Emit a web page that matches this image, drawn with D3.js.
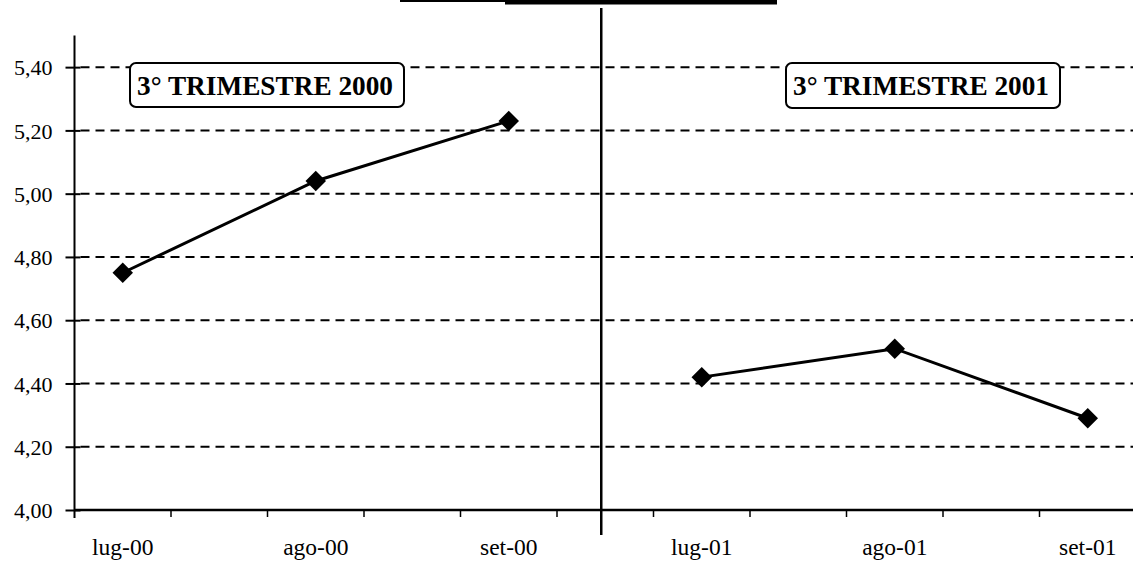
<!DOCTYPE html>
<html>
<head>
<meta charset="utf-8">
<script src="https://cdn.jsdelivr.net/npm/d3@7"></script>
<style>
  html, body { margin: 0; padding: 0; background: #fff; }
  svg { display: block; }
</style>
</head>
<body>
<svg id="chart" width="1133" height="562"></svg>
<script>
// ---- data ----
const categories = ["lug-00", "ago-00", "set-00", "lug-01", "ago-01", "set-01"];
const series2000 = [4.75, 5.04, 5.23];
const series2001 = [4.42, 4.51, 4.29];
const panelTitles = ["3° TRIMESTRE 2000", "3° TRIMESTRE 2001"];
const yTickValues = [4.00, 4.20, 4.40, 4.60, 4.80, 5.00, 5.20, 5.40];
const yDomain = [4.00, 5.50];

// ---- setup ----
const W = 1133, H = 562;
const svg = d3.select("#chart");
const font = "'Liberation Serif', 'Times New Roman', serif";
const fmt = d3.formatLocale({decimal: ",", thousands: ".", grouping: [3], currency: ["", ""]}).format(".2f");

const x = d3.scaleBand().domain(categories).range([74.5, 1136]).paddingInner(0.5).paddingOuter(0);
const y = d3.scaleLinear().domain(yDomain).range([510, 35.5]);
const cx = d => x(d) + x.bandwidth() / 2;

const axisX = x.range()[0];
const baseY = y(yDomain[0]);

// top black bar (cropped header)
svg.append("rect").attr("x", 400).attr("y", 0).attr("width", 377).attr("height", 2).attr("fill", "#000");
svg.append("rect").attr("x", 505).attr("y", 0).attr("width", 272).attr("height", 4.5).attr("fill", "#000");

// gridlines
svg.append("g").selectAll("line").data(yTickValues.filter(v => v > yDomain[0])).join("line")
  .attr("x1", axisX + 6).attr("x2", W)
  .attr("y1", d => y(d)).attr("y2", d => y(d))
  .attr("stroke", "#000").attr("stroke-width", 2).attr("stroke-dasharray", "9,6");

// y axis
const yAxis = d3.axisLeft(y).tickValues(yTickValues).tickFormat(fmt).tickSize(0).tickPadding(0);
const gy = svg.append("g").attr("transform", `translate(${axisX},0)`).call(yAxis);
gy.select(".domain").remove();
gy.selectAll(".tick text")
  .attr("x", -22).attr("dy", "0.35em")
  .attr("font-family", font).attr("font-size", 22).attr("fill", "#000");
gy.selectAll(".tick").append("line")
  .attr("x1", -9).attr("x2", 6).attr("stroke", "#000").attr("stroke-width", 2);
svg.append("line").attr("x1", axisX).attr("x2", axisX).attr("y1", y(yDomain[1])).attr("y2", baseY + 8)
  .attr("stroke", "#000").attr("stroke-width", 2);

// x axis line
svg.append("line").attr("x1", axisX).attr("x2", W).attr("y1", baseY).attr("y2", baseY)
  .attr("stroke", "#000").attr("stroke-width", 2.5);

// x ticks at band edges
const tickPos = [];
categories.forEach(c => { tickPos.push(x(c)); tickPos.push(x(c) + x.bandwidth()); });
svg.append("g").selectAll("line").data(tickPos.filter(p => p > axisX + 1 && p < W)).join("line")
  .attr("x1", d => d).attr("x2", d => d).attr("y1", baseY).attr("y2", baseY + 7)
  .attr("stroke", "#000").attr("stroke-width", 1.5);

// x labels
const xAxis = d3.axisBottom(x).tickSize(0).tickPadding(0);
const gx = svg.append("g").attr("transform", `translate(0,${baseY})`).call(xAxis);
gx.select(".domain").remove();
gx.selectAll(".tick text").attr("y", 45).attr("dy", 0)
  .attr("font-family", font).attr("font-size", 23.5).attr("fill", "#000");

// divider between panels
const divX = (x(categories[2]) + x.bandwidth() + x(categories[3])) / 2 - 4;
svg.append("line").attr("x1", divX).attr("x2", divX).attr("y1", 8).attr("y2", baseY + 25)
  .attr("stroke", "#000").attr("stroke-width", 2.5);

// series
const panels = [
  {cats: categories.slice(0, 3), vals: series2000},
  {cats: categories.slice(3, 6), vals: series2001}
];
const line = d3.line().x(d => cx(d.c)).y(d => y(d.v));
const diamond = d3.symbol().type(d3.symbolSquare).size(210);
panels.forEach(p => {
  const pts = p.cats.map((c, i) => ({c, v: p.vals[i]}));
  svg.append("path").datum(pts).attr("d", line)
    .attr("fill", "none").attr("stroke", "#000").attr("stroke-width", 3);
  svg.append("g").selectAll("path").data(pts).join("path")
    .attr("d", diamond)
    .attr("transform", d => `translate(${cx(d.c)},${y(d.v)}) rotate(45)`)
    .attr("fill", "#000");
});

// title boxes
const boxes = [
  {x: 130, y: 63, w: 274, h: 44, title: panelTitles[0]},
  {x: 786, y: 63, w: 274, h: 45, title: panelTitles[1]}
];
boxes.forEach(b => {
  svg.append("rect").attr("x", b.x).attr("y", b.y).attr("width", b.w).attr("height", b.h)
    .attr("rx", 6).attr("ry", 6).attr("fill", "#fff").attr("stroke", "#000").attr("stroke-width", 2);
  svg.append("text").attr("x", b.x + 7).attr("y", b.y + 32)
    .attr("font-family", font).attr("font-weight", "bold").attr("font-size", 27)
    .attr("textLength", 256).attr("lengthAdjust", "spacingAndGlyphs")
    .attr("fill", "#000").text(b.title);
});
</script>
</body>
</html>
